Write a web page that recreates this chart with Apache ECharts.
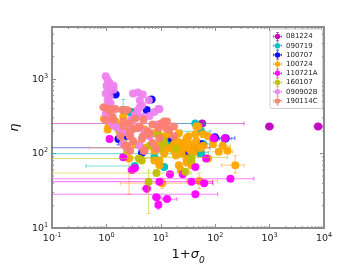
<!DOCTYPE html>
<html><head><meta charset="utf-8">
<script src="https://cdn.jsdelivr.net/npm/echarts@6/dist/echarts.min.js"></script>
<style>html,body{margin:0;padding:0;background:#fff}#c{width:360px;height:270px}</style>
</head><body><div id="c"></div>
<script>
// rows: [x, y, xLow, xHigh, yLow, yHigh]  (null = no error bar)
const names = ['081224','090719','100707','100724','110721A','160107','090902B','190114C'];
const colors = ['#bf00bf','#00bfbf','#0000ff','#ffa500','#ff00ff','#bfbf00','#ee82ee','#fa8072'];
const xTickValues = [0.1, 1, 10, 100, 1000, 10000];
const yTickValues = [10, 100, 1000];

const s081224 = [
  [990, 231, 840, 1170, null, null],
  [7800, 231, 6600, 9500, null, null],
  [57.5, 253, 0.05, 339, null, null],
  [2.83, 362, null, null, null, null],
  [12.5, 157, 11, 15, null, null],
  [98, 161, 80, 120, null, null]
];
const s090719 = [
  [2.03, 384, 1.46, 3.07, 300, 533],
  [43, 253, 8.6, 64, null, null],
  [55, 199, 24.2, 83, null, null],
  [36.5, 103, null, null, null, null],
  [55, 103, 40, 75, null, null],
  [11.5, 66, null, null, null, null],
  [150, 157, 120, 200, null, null],
  [21.4, 100, 0.05, 40, null, null],
  [3.3, 68, 0.42, 3.6, null, null],
  [14.2, 139, null, null, null, null],
  [60, 135, 40, 90, null, null],
  [7.6, 89, null, null, null, null],
  [2.71, 362, null, null, null, null],
  [90, 161, null, null, null, null],
  [53, 100, null, null, null, null],
  [35, 100, null, null, null, null]
];
const s100707 = [
  [1.29, 658, 1.1, 1.5, null, null],
  [1.46, 620, 1.3, 1.7, null, null],
  [6.7, 533, 6.0, 7.8, null, null],
  [5.48, 384, null, null, null, null],
  [155, 161, 110, 230, null, null],
  [55, 131, 35, 70, null, null],
  [1.66, 157, null, null, 131, 188],
  [2.4, 171, null, null, null, null],
  [17.4, 127, null, null, null, null],
  [40, 120, 0.05, 80, null, null],
  [4.5, 103, null, null, null, null],
  [29, 100, null, null, null, null],
  [53, 135, null, null, null, null],
  [98, 166, null, null, null, null],
  [16, 157, null, null, null, null]
];
const s100724 = [
  [44.9, 231, null, null, null, null],
  [19.7, 148, null, null, null, null],
  [17.4, 135, null, null, null, null],
  [26.3, 127, null, null, null, null],
  [35.1, 109, null, null, null, null],
  [39.7, 103, null, null, null, null],
  [53, 120, 0.48, 100, null, null],
  [29.7, 86, null, null, null, null],
  [137, 127, 100, 190, null, null],
  [116, 106, 45, 210, null, null],
  [234, 70, 131, 339, 55, 94],
  [29.7, 76, null, null, null, null],
  [23.2, 60, null, null, null, null],
  [9.4, 70, null, null, null, null],
  [7.6, 81, null, null, null, null],
  [10.6, 40, 1.8, 90, 34, 47],
  [50.8, 43, 30, 110, 34, 55],
  [2.6, 86, null, null, 28.5, 120],
  [1.19, 312, null, null, null, null],
  [2.03, 312, null, null, null, null],
  [1.46, 245, null, null, null, null],
  [1.09, 231, null, null, null, null],
  [5.04, 211, null, null, null, null],
  [7.6, 188, null, null, null, null],
  [11.5, 171, null, null, null, null],
  [14.2, 182, null, null, null, null],
  [21.4, 188, null, null, null, null],
  [32.3, 171, null, null, null, null],
  [60, 182, null, null, null, null],
  [73.6, 171, null, null, null, null],
  [3.34, 135, null, null, null, null],
  [5.04, 120, null, null, null, null],
  [9.4, 135, null, null, null, null],
  [13, 116, null, null, null, null],
  [24.2, 100, null, null, null, null],
  [18.9, 94, null, null, null, null],
  [11.5, 100, null, null, null, null],
  [7.6, 109, null, null, null, null],
  [43.1, 182, null, null, null, null],
  [44.9, 148, null, null, null, null],
  [36.5, 70, null, null, null, null],
  [73.6, 86, null, null, null, null],
  [60, 127, null, null, null, null],
  [90.6, 135, null, null, null, null],
  [23.2, 139, null, null, null, null],
  [26.3, 139, null, null, null, null],
  [35.1, 135, null, null, null, null],
  [18.9, 135, null, null, null, null],
  [15.3, 120, null, null, null, null],
  [29.7, 120, null, null, null, null],
  [43.1, 127, null, null, null, null],
  [10.2, 120, null, null, null, null],
  [24.2, 116, null, null, null, null],
  [17.4, 109, null, null, null, null],
  [168, 109, null, null, null, null],
  [9.4, 81, null, null, null, null],
  [21.4, 70, null, null, null, null],
  [48.8, 231, null, null, null, null],
  [0.9, 294, null, null, null, null],
  [1.46, 269, null, null, null, null],
  [1.05, 211, null, null, null, null],
  [1.8, 188, null, null, null, null],
  [29.7, 161, null, null, null, null]
];
const s110721A = [
  [1.14, 157, null, null, null, null],
  [2.03, 89, 1.8, 2.3, null, null],
  [2.95, 60, 2.5, 3.5, null, null],
  [3.34, 64, null, null, null, null],
  [5.48, 34, 4.5, 6.5, 30, 40],
  [9.4, 42, null, null, null, null],
  [8.3, 26, 7, 10, null, null],
  [13, 24.5, 10.5, 19.7, null, null],
  [9, 20.5, null, null, 18, 23],
  [36.5, 42, 0.05, 90, null, null],
  [62.5, 40, 35, 90, null, null],
  [43.1, 28.5, 0.05, 111, null, null],
  [190, 46, 0.05, 512, null, null],
  [14.7, 53, null, null, null, null],
  [25.2, 53, null, null, null, null],
  [68, 86, null, null, null, null],
  [43.1, 66, null, null, null, null],
  [94.4, 161, null, null, null, null],
  [150, 161, null, null, null, null]
];
const s160107 = [
  [1.66, 211, null, null, null, null],
  [2.03, 139, null, null, null, null],
  [2.4, 109, null, null, null, null],
  [3.94, 86, 0.05, 10, null, null],
  [4.46, 81, null, null, null, null],
  [8.3, 55, 0.05, 36, null, null],
  [5.95, 42, null, null, 15.7, 60],
  [28.5, 57, null, null, null, null],
  [8.6, 182, null, null, null, null],
  [18.9, 116, null, null, null, null],
  [36.5, 89, 3.07, 168, null, null],
  [6.2, 127, null, null, null, null],
  [11.5, 139, null, null, null, null],
  [1.59, 231, null, null, null, null],
  [9, 182, null, null, null, null],
  [9.4, 116, null, null, null, null],
  [11, 148, null, null, null, null],
  [36.5, 81, null, null, null, null]
];
const s090902B = [
  [0.97, 1094, null, null, null, null],
  [1.05, 970, null, null, null, null],
  [1.14, 887, null, null, null, null],
  [1.0, 811, null, null, null, null],
  [1.09, 719, null, null, null, null],
  [0.97, 638, null, null, null, null],
  [1.14, 584, null, null, null, null],
  [1.05, 518, null, null, null, null],
  [1.19, 473, null, null, null, null],
  [1.0, 420, null, null, null, null],
  [1.14, 384, null, null, null, null],
  [0.97, 341, null, null, null, null],
  [1.24, 312, null, null, null, null],
  [1.09, 277, null, null, null, null],
  [1.29, 245, null, null, null, null],
  [1.35, 811, null, null, null, null],
  [1.35, 719, null, null, null, null],
  [3.07, 638, null, null, null, null],
  [3.78, 658, null, null, null, null],
  [4.64, 620, null, null, null, null],
  [4.1, 518, null, null, null, null],
  [4.46, 446, null, null, null, null],
  [3.78, 384, null, null, null, null],
  [3.34, 331, null, null, null, null],
  [2.83, 285, null, null, null, null],
  [4.64, 312, null, null, null, null],
  [6.2, 320, null, null, null, null],
  [7.6, 362, null, null, null, null],
  [9.4, 396, null, null, null, null],
  [1.46, 231, null, null, null, null],
  [1.8, 211, null, null, null, null],
  [2.21, 193, null, null, null, null],
  [2.71, 171, null, null, null, null],
  [5.04, 199, null, null, null, null],
  [4.1, 127, null, null, null, null],
  [6.2, 171, null, null, null, null],
  [2.03, 135, null, null, null, null],
  [2.4, 120, null, null, null, null],
  [8.6, 245, null, null, null, null],
  [4.1, 420, null, null, null, null],
  [6.0, 518, null, null, null, null],
  [9.0, 396, null, null, null, null],
  [3.62, 312, null, null, null, null],
  [2.95, 211, null, null, null, null]
];
const s190114C = [
  [0.89, 420, 0.75, 1.05, null, null],
  [1.46, 396, null, null, null, null],
  [1.09, 384, null, null, null, null],
  [3.34, 294, null, null, null, null],
  [4.1, 231, null, null, null, null],
  [7.0, 245, null, null, null, null],
  [10.2, 253, null, null, null, null],
  [12.5, 218, null, null, null, null],
  [5.71, 199, null, null, null, null],
  [1.35, 285, null, null, null, null],
  [2.4, 384, null, null, null, null],
  [2.03, 269, null, null, null, null],
  [2.71, 199, null, null, null, null],
  [3.78, 218, null, null, null, null],
  [4.64, 171, null, null, null, null],
  [6.2, 188, null, null, null, null],
  [11.5, 269, null, null, null, null],
  [14.2, 211, null, null, null, null],
  [17.4, 231, null, null, null, null],
  [1.8, 171, null, null, null, null],
  [3.07, 148, null, null, null, null],
  [7.0, 139, null, null, null, null],
  [9.4, 161, null, null, null, null],
  [17.4, 171, null, null, null, null],
  [2.21, 127, null, null, null, null],
  [5.04, 109, null, null, null, null],
  [0.97, 285, 0.8, 1.2, null, null],
  [1.19, 396, null, null, null, null],
  [1.96, 384, null, null, null, null],
  [1.29, 312, null, null, null, null],
  [2.1, 231, null, null, null, null],
  [2.6, 253, null, null, null, null],
  [3.34, 218, null, null, null, null],
  [4.8, 285, null, null, null, null],
  [2.71, 171, null, null, null, null],
  [4.46, 157, null, null, null, null],
  [5.95, 182, null, null, null, null],
  [9.0, 218, null, null, null, null],
  [11.0, 245, null, null, null, null],
  [2.4, 127, null, null, null, null],
  [2.71, 109, null, null, null, null],
  [4.8, 109, null, null, null, null],
  [8.3, 116, null, null, null, null],
  [13.0, 269, null, null, null, null]
];

const allData = [s081224, s090719, s100707, s100724, s110721A, s160107, s090902B, s190114C];

const FONT = 'DejaVu Sans';
const AXC = '#8c8c8c';
const X_MIN = 0.1, X_MAX = 10000, Y_MIN = 10, Y_MAX = 5000;

function errRender(rows, color) {
  return function (params, api) {
    const r = rows[params.dataIndex];
    const cs = params.coordSys;
    const L = cs.x, R = cs.x + cs.width, T = cs.y, B = cs.y + cs.height;
    const p = api.coord([r[0], r[1]]);
    const st = { stroke: color, lineWidth: 1.1, opacity: 0.5 };
    const ch = [];
    const cap = 2;
    const cx = v => Math.max(L, Math.min(R, v));
    const cy = v => Math.max(T, Math.min(B, v));
    if (r[2] != null && r[3] != null) {
      const a = api.coord([r[2], r[1]])[0], b = api.coord([r[3], r[1]])[0];
      ch.push({ type: 'line', shape: { x1: cx(a), y1: p[1], x2: cx(b), y2: p[1] }, style: st });
      [a, b].forEach(v => { if (v >= L && v <= R) ch.push({ type: 'line', shape: { x1: v, y1: p[1] - cap, x2: v, y2: p[1] + cap }, style: st }); });
    }
    if (r[4] != null && r[5] != null) {
      const a = api.coord([r[0], r[4]])[1], b = api.coord([r[0], r[5]])[1];
      ch.push({ type: 'line', shape: { x1: p[0], y1: cy(a), x2: p[0], y2: cy(b) }, style: st });
      [a, b].forEach(v => { if (v >= T && v <= B) ch.push({ type: 'line', shape: { x1: p[0] - cap, y1: v, x2: p[0] + cap, y2: v }, style: st }); });
    }
    return { type: 'group', children: ch };
  };
}

// minor log ticks on all four sides
function minorRender(params, api) {
  const cs = params.coordSys;
  const L = cs.x, R = cs.x + cs.width, T = cs.y, B = cs.y + cs.height;
  const st = { stroke: AXC, lineWidth: 1 };
  const ch = [];
  const len = 2;
  for (let e = -1; e < 4; e++) for (let k = 2; k <= 9; k++) {
    const v = k * Math.pow(10, e);
    if (v <= X_MIN || v >= X_MAX) continue;
    const x = api.coord([v, Y_MIN])[0];
    ch.push({ type: 'line', shape: { x1: x, y1: B, x2: x, y2: B - len }, style: st });
    ch.push({ type: 'line', shape: { x1: x, y1: T, x2: x, y2: T + len }, style: st });
  }
  for (let e = 1; e < 4; e++) for (let k = 2; k <= 9; k++) {
    const v = k * Math.pow(10, e);
    if (v <= Y_MIN || v >= Y_MAX) continue;
    const y = api.coord([X_MIN, v])[1];
    ch.push({ type: 'line', shape: { x1: L, y1: y, x2: L + len, y2: y }, style: st });
    ch.push({ type: 'line', shape: { x1: R, y1: y, x2: R - len, y2: y }, style: st });
  }
  return { type: 'group', children: ch };
}

const supFmt = v => '{b|10}{s|' + Math.round(Math.log10(v)) + '}';
const richLab = {
  b: { fontSize: 9.5, fontFamily: FONT, color: '#222', lineHeight: 13 },
  s: { fontSize: 6.5, fontFamily: FONT, color: '#222', verticalAlign: 'top', lineHeight: 13 }
};

const series = [];
allData.forEach((rows, i) => {
  series.push({
    type: 'custom', name: names[i] + '_err', silent: true, clip: true,
    renderItem: errRender(rows, colors[i]),
    data: rows.map(r => [r[0], r[1]]), z: 2 + i * 2
  });
  series.push({
    type: 'scatter', name: names[i], symbol: 'circle', symbolSize: 8,
    itemStyle: { color: colors[i], opacity: 0.95 },
    data: rows.map(r => [r[0], r[1]]), z: 3 + i * 2, silent: true
  });
});
series.push({ type: 'custom', silent: true, renderItem: minorRender, data: [[1, 100]], z: 30 });

const iconPath = 'path://M0,4.6H10V5.4H0Z M4.6,0H5.4V10H4.6Z M0,3.6H0.7V6.4H0Z M9.3,3.6H10V6.4H9.3Z M3.6,0H6.4V0.7H3.6Z M3.6,9.3H6.4V10H3.6Z M8,5A3,3,0,1,1,2,5A3,3,0,1,1,8,5Z';

const chart = echarts.init(document.getElementById('c'), null, { renderer: 'canvas' });
chart.setOption({
  animation: false,
  backgroundColor: '#fff',
  grid: { left: 45, right: 36, top: 27, bottom: 35 },
  legend: {
    data: names.map(n => ({ name: n, icon: iconPath })),
    orient: 'vertical', left: 270, top: 29,
    itemWidth: 9, itemHeight: 9, itemGap: 0.2,
    padding: [3, 5, 3, 3],
    backgroundColor: '#fff', borderColor: '#ccc', borderWidth: 1, borderRadius: 2,
    textStyle: { fontSize: 7, fontFamily: FONT, color: '#222', padding: [0, 0, 0, -1] },
    selectedMode: false
  },
  xAxis: [{
    type: 'log', logBase: 10, min: X_MIN, max: X_MAX, interval: 1,
    name: '{n|1+}{i|σ}{sub|0}', nameLocation: 'middle', nameGap: 15,
    nameTextStyle: { rich: {
      n: { fontSize: 13, fontFamily: FONT, color: '#111' },
      i: { fontSize: 13, fontFamily: FONT, fontStyle: 'italic', color: '#111' },
      sub: { fontSize: 9, fontFamily: FONT, fontStyle: 'italic', color: '#111', verticalAlign: 'bottom', lineHeight: 20 }
    } },
    axisLine: { show: true, lineStyle: { color: AXC, width: 2 } },
    axisTick: { inside: true, length: 4, lineStyle: { color: AXC }, customValues: xTickValues },
    axisLabel: { margin: 4, formatter: supFmt, rich: richLab, customValues: xTickValues },
    splitLine: { show: false }
  }, {
    type: 'log', logBase: 10, min: X_MIN, max: X_MAX, interval: 1, position: 'top',
    axisLine: { show: true, lineStyle: { color: AXC, width: 2 } },
    axisTick: { inside: true, length: 4, lineStyle: { color: AXC }, customValues: xTickValues },
    axisLabel: { show: false }, splitLine: { show: false }
  }],
  yAxis: [{
    type: 'log', logBase: 10, min: Y_MIN, max: Y_MAX, interval: 1,
    name: 'η', nameLocation: 'middle', nameGap: 22,
    nameTextStyle: { fontSize: 13, fontFamily: FONT, fontStyle: 'italic', color: '#111' },
    axisLine: { show: true, lineStyle: { color: AXC, width: 2 } },
    axisTick: { inside: true, length: 4, lineStyle: { color: AXC }, customValues: yTickValues },
    axisLabel: { margin: 4, formatter: supFmt, rich: richLab, customValues: yTickValues },
    splitLine: { show: false }
  }, {
    type: 'log', logBase: 10, min: Y_MIN, max: Y_MAX, interval: 1, position: 'right',
    axisLine: { show: true, lineStyle: { color: AXC, width: 2 } },
    axisTick: { inside: true, length: 4, lineStyle: { color: AXC }, customValues: yTickValues },
    axisLabel: { show: false }, splitLine: { show: false }
  }],
  series: series
});
</script></body></html>
